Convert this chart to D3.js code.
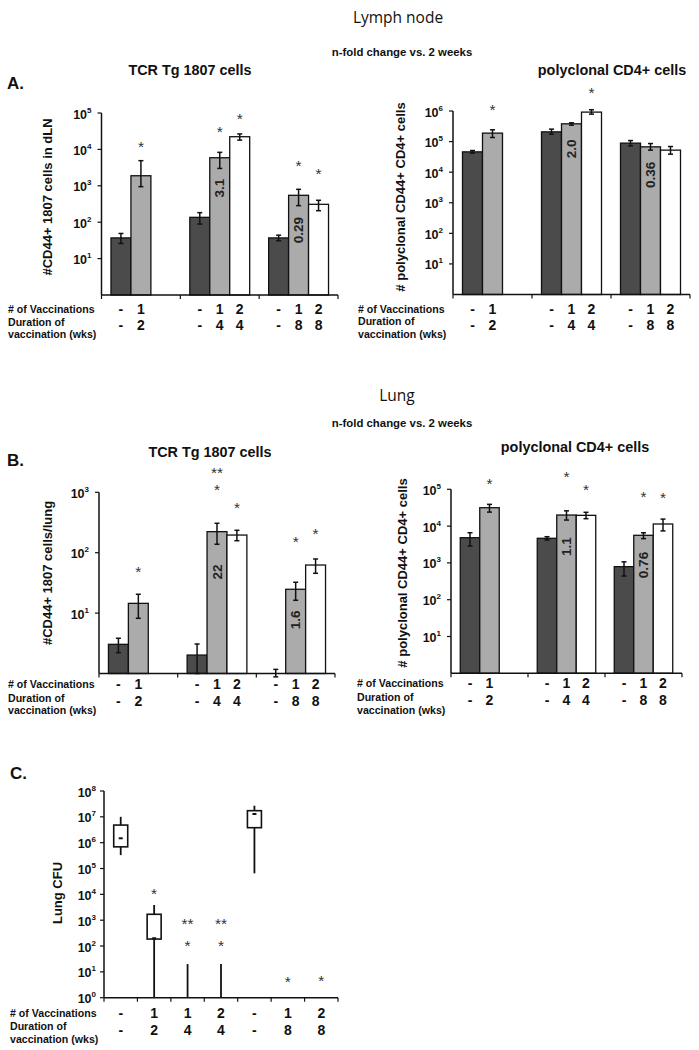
<!DOCTYPE html>
<html><head><meta charset="utf-8">
<script src="https://cdn.jsdelivr.net/npm/d3@7"></script>
<style>body{margin:0;background:#fff} svg{display:block}</style>
</head><body><svg id="c" width="699" height="1050"></svg>
<script>
// ---------------- DATA ----------------
const seriesNames = ["unvaccinated", "1 vaccination", "2 vaccinations"];
const groupVacc = [["-", "1"], ["-", "1", "2"], ["-", "1", "2"]];
const groupDur = [["-", "2"], ["-", "4", "4"], ["-", "8", "8"]];

// A. Lymph node, TCR Tg 1807 cells
const lnTcrMean = [[37, 1890], [136, 5900, 22300], [37, 548, 310]];
const lnTcrLo   = [[26, 946], [89, 3000, 18000], [31, 285, 207]];
const lnTcrHi   = [[49, 4900], [183, 8300, 26600], [44, 800, 400]];
const lnTcrStars = [[0, 1, "*", 15000], [1, 1, "*", 38700], [1, 2, "*", 88000], [2, 1, "*", 4500], [2, 2, "*", 2700]];
const lnTcrFold = [[1, 1, "3.1", 870], [2, 1, "0.29", 61]];

// A. Lymph node, polyclonal CD4+ cells
const lnPolyMean = [[46100, 189000], [208000, 381000, 920000], [89000, 67300, 52500]];
const lnPolyLo   = [[41900, 136000], [175000, 345000, 790000], [72600, 52500, 38800]];
const lnPolyHi   = [[51000, 243000], [255000, 411000, 1100000], [108000, 86300, 68900]];
const lnPolyStars = [[0, 1, "*", 1480000], [1, 2, "*", 5300000]];
const lnPolyFold = [[1, 1, "2.0", 58000], [2, 1, "0.36", 8100]];

// B. Lung, TCR Tg 1807 cells
const lgTcrMean = [[3.04, 14.5], [2.02, 223, 196], [1, 24.8, 62.5]];
const lgTcrLo   = [[2.21, 8.2], [1.0, 138, 158], [0.88, 16.3, 45.6]];
const lgTcrHi   = [[3.83, 20.5], [3.08, 307, 235], [1.17, 32.4, 78.7]];
const lgTcrStars = [[0, 1, "*", 56.5], [1, 1, "**", 2430], [1, 1, "*", 1240], [1, 2, "*", 633], [2, 1, "*", 175], [2, 2, "*", 238]];
const lgTcrFold = [[1, 1, "22", 48], [2, 1, "1.6", 7.7]];

// B. Lung, polyclonal CD4+ cells
const lgPolyMean = [[4840, 31600], [4660, 20000, 19600], [790, 5620, 11400]];
const lgPolyLo   = [[2880, 24000], [4190, 14600, 15900], [440, 4570, 7400]];
const lgPolyHi   = [[6600, 39000], [5150, 26000, 23700], [1070, 6600, 15500]];
const lgPolyStars = [[0, 1, "*", 179000], [1, 1, "*", 272000], [1, 2, "*", 123000], [2, 1, "*", 80900], [2, 2, "*", 74500]];
const lgPolyFold = [[1, 1, "1.1", 2760], [2, 1, "0.76", 877]];

// C. Lung CFU box plots
const cfuVacc = ["-", "1", "1", "2", "-", "1", "2"];
const cfuDur  = ["-", "2", "4", "4", "-", "8", "8"];
const cfuMin = [330000, 0, 0, 0, 65000, 0, 0];
const cfuQ1  = [690000, 186, 0, 0, 3800000, 0, 0];
const cfuMed = [1480000, 200, 0, 0, 12900000, 0, 0];
const cfuQ3  = [4800000, 1690, 0, 0, 17300000, 0, 0];
const cfuMax = [10000000, 3870, 20, 20, 27000000, 0, 0];
const cfuStars = [[1, "*", 14700], [2, "**", 1016], [2, "*", 147], [3, "**", 1016], [3, "*", 147], [5, "*", 5.6], [6, "*", 6.2]];

// ---------------- DRAWING ----------------
const FONT = "'Liberation Sans', Arial, Helvetica, sans-serif";
const svg = d3.select("#c").style("font-family", FONT);
svg.append("rect").attr("width", 699).attr("height", 1050).attr("fill", "#fff");
const barFill = ["#4b4b4b", "#ababab", "#ffffff"];
const INK = "#111";
const STAR = "#333";

function txt(g, x, y, s, o = {}) {
  return g.append("text").attr("x", x).attr("y", y).text(s)
    .attr("font-size", o.size || 12)
    .attr("font-weight", o.weight || "bold")
    .attr("text-anchor", o.anchor || "start")
    .attr("dominant-baseline", o.base || "central")
    .attr("fill", o.fill || INK)
    .style("font-family", o.family || FONT);
}

function logAxis(g, x0, y, exps, labelOff) {
  const [b, t] = y.range();
  g.append("line").attr("x1", x0).attr("x2", x0).attr("y1", b).attr("y2", t)
    .attr("stroke", INK).attr("stroke-width", 1.5);
  exps.forEach(k => {
    const ty = y(Math.pow(10, k));
    g.append("line").attr("x1", x0 - 4).attr("x2", x0).attr("y1", ty).attr("y2", ty)
      .attr("stroke", INK).attr("stroke-width", 1.2);
    const t = g.append("text").attr("x", x0 - labelOff).attr("y", ty + 5.5)
      .attr("text-anchor", "end").attr("font-weight", "bold").attr("font-size", 12.5).attr("fill", INK);
    t.append("tspan").text("10");
    t.append("tspan").attr("dy", -6).attr("font-size", 8).text(k);
  });
}

function rowLabels(g, rowX, base, off) {
  txt(g, rowX, base + off[0], "# of Vaccinations", {size: 10.6});
  txt(g, rowX, base + off[1], "Duration of", {size: 10.6});
  txt(g, rowX, base + off[3], "vaccination (wks)", {size: 10.6});
}

function barPanel(o) {
  const g = svg.append("g");
  const y = d3.scaleLog().domain([1, Math.pow(10, o.maxExp)]).range([o.yb, o.yt]);
  const xg = d3.scaleBand().domain([0, 1, 2]).range([o.x0, o.x1]);
  const xs = d3.scaleBand().domain([0, 1, 2]).range([0, xg.bandwidth()]).paddingOuter(0.475);
  const cx = (gi, si) => xg(gi) + xs(si) + xs.bandwidth() / 2;

  // bars
  o.mean.forEach((grp, gi) => grp.forEach((v, si) => {
    const top = y(v);
    g.append("rect").attr("x", xg(gi) + xs(si)).attr("y", top)
      .attr("width", xs.bandwidth()).attr("height", Math.max(0, o.yb - top))
      .attr("fill", barFill[si]).attr("stroke", INK).attr("stroke-width", 1.3);
  }));
  // error bars
  o.mean.forEach((grp, gi) => grp.forEach((v, si) => {
    const x = cx(gi, si), y1 = y(o.lo[gi][si]), y2 = y(o.hi[gi][si]);
    g.append("line").attr("x1", x).attr("x2", x).attr("y1", y1).attr("y2", y2).attr("stroke", INK).attr("stroke-width", 1.5);
    [y1, y2].forEach(yy => g.append("line").attr("x1", x - 2.5).attr("x2", x + 2.5).attr("y1", yy).attr("y2", yy).attr("stroke", INK).attr("stroke-width", 1.5));
  }));
  // fold-change labels
  o.fold.forEach(([gi, si, s, v]) => {
    const x = cx(gi, si), yy = y(v);
    g.append("text").attr("transform", `translate(${x},${yy}) rotate(-90)`)
      .attr("text-anchor", "middle").attr("dominant-baseline", "central")
      .attr("font-weight", "bold").attr("font-size", 13.5).attr("fill", "#222").text(s);
  });
  // stars
  o.stars.forEach(([gi, si, s, v]) => {
    g.append("text").attr("x", cx(gi, si)).attr("y", y(v)).attr("dy", "0.57em")
      .attr("text-anchor", "middle").attr("font-size", 15.5).attr("fill", STAR).text(s);
  });
  // axes
  g.append("line").attr("x1", o.x0).attr("x2", o.x1).attr("y1", o.yb).attr("y2", o.yb).attr("stroke", INK).attr("stroke-width", 1.5);
  [0, 1, 2, 3].forEach(k => {
    const x = o.x0 + k * xg.step();
    g.append("line").attr("x1", x).attr("x2", x).attr("y1", o.yb).attr("y2", o.yb + 4).attr("stroke", INK).attr("stroke-width", 1.2);
  });
  logAxis(g, o.x0, y, d3.range(1, o.maxExp + 1), 10);
  // y label
  g.append("text").attr("transform", `translate(${o.ylx},${o.yly}) rotate(-90)`)
    .attr("text-anchor", "middle").attr("dominant-baseline", "central")
    .attr("font-weight", "bold").attr("font-size", 13).attr("fill", INK).text(o.ylabel);
  // title
  txt(g, o.tx, o.ty, o.title, {size: 14.4, anchor: "middle"});
  // row labels
  rowLabels(g, o.rowX, o.yb, o.rowOff);
  groupVacc.forEach((grp, gi) => grp.forEach((s, si) => {
    txt(g, cx(gi, si), o.yb + o.rowOff[0], s, {size: 14, anchor: "middle"});
  }));
  groupDur.forEach((grp, gi) => grp.forEach((s, si) => {
    txt(g, cx(gi, si), o.yb + o.rowOff[2], s, {size: 14, anchor: "middle"});
  }));
}

// headings
txt(svg, 398, 17, "Lymph node", {size: 15.5, weight: "normal", anchor: "middle", family: "'Open Sans', sans-serif"});
txt(svg, 402, 52, "n-fold change vs. 2 weeks", {size: 11.4, anchor: "middle"});
txt(svg, 7, 83, "A.", {size: 17});
txt(svg, 397, 395, "Lung", {size: 15.5, weight: "normal", anchor: "middle", family: "'Open Sans', sans-serif"});
txt(svg, 402, 423, "n-fold change vs. 2 weeks", {size: 11.4, anchor: "middle"});
txt(svg, 7, 460, "B.", {size: 17});
txt(svg, 10, 773, "C.", {size: 17});

const rowOffA = [14, 26.7, 30, 39.3];
const rowOffB = [10, 24, 27, 36.4];

barPanel({x0: 101.5, x1: 338, yb: 295, yt: 113, maxExp: 5,
  mean: lnTcrMean, lo: lnTcrLo, hi: lnTcrHi, stars: lnTcrStars, fold: lnTcrFold,
  ylabel: "#CD44+ 1807 cells in dLN", ylx: 47, yly: 197,
  title: "TCR Tg 1807 cells", tx: 190, ty: 70, rowX: 8, rowOff: rowOffA});
barPanel({x0: 453, x1: 690, yb: 294.5, yt: 111, maxExp: 6,
  mean: lnPolyMean, lo: lnPolyLo, hi: lnPolyHi, stars: lnPolyStars, fold: lnPolyFold,
  ylabel: "# polyclonal CD44+ CD4+ cells", ylx: 400, yly: 197,
  title: "polyclonal CD4+ cells", tx: 612, ty: 70, rowX: 358, rowOff: rowOffA});
barPanel({x0: 99, x1: 335, yb: 673.5, yt: 492.3, maxExp: 3,
  mean: lgTcrMean, lo: lgTcrLo, hi: lgTcrHi, stars: lgTcrStars, fold: lgTcrFold,
  ylabel: "#CD44+ 1807 cells/lung", ylx: 47, yly: 573,
  title: "TCR Tg 1807 cells", tx: 210, ty: 452, rowX: 8, rowOff: rowOffB});
barPanel({x0: 451, x1: 682, yb: 673.3, yt: 489.3, maxExp: 5,
  mean: lgPolyMean, lo: lgPolyLo, hi: lgPolyHi, stars: lgPolyStars, fold: lgPolyFold,
  ylabel: "# polyclonal CD44+ CD4+ cells", ylx: 402, yly: 573,
  title: "polyclonal CD4+ cells", tx: 575, ty: 447, rowX: 357, rowOff: rowOffB});

// ---- Panel C: box plots ----
(function () {
  const g = svg.append("g");
  const x0 = 104, x1 = 338, yb = 997.7, yt = 791;
  const y = d3.scaleLog().domain([1, 1e8]).range([yb, yt]);
  const pv = v => y(Math.max(v, 1));
  const xc = d3.scaleBand().domain(d3.range(cfuVacc.length)).range([x0, x1]);
  const cx = i => xc(i) + xc.bandwidth() / 2;
  const bw = 14;
  cfuVacc.forEach((_, i) => {
    const x = cx(i);
    if (cfuMax[i] > 1) {
      g.append("line").attr("x1", x).attr("x2", x).attr("y1", pv(cfuMin[i])).attr("y2", pv(cfuMax[i]))
        .attr("stroke", INK).attr("stroke-width", 1.8);
    }
    if (cfuQ3[i] > cfuQ1[i]) {
      g.append("rect").attr("x", x - bw / 2).attr("y", pv(cfuQ3[i])).attr("width", bw)
        .attr("height", pv(cfuQ1[i]) - pv(cfuQ3[i])).attr("fill", "#fff").attr("stroke", INK).attr("stroke-width", 1.6);
    }
    if (cfuMed[i] > 1) {
      g.append("line").attr("x1", x - 2).attr("x2", x + 2).attr("y1", pv(cfuMed[i])).attr("y2", pv(cfuMed[i]))
        .attr("stroke", INK).attr("stroke-width", 2);
    }
  });
  cfuStars.forEach(([i, s, v]) => {
    g.append("text").attr("x", cx(i)).attr("y", y(v)).attr("dy", "0.57em")
      .attr("text-anchor", "middle").attr("font-size", 15.5).attr("fill", STAR).text(s);
  });
  g.append("line").attr("x1", x0).attr("x2", x1).attr("y1", yb).attr("y2", yb).attr("stroke", INK).attr("stroke-width", 1.5);
  d3.range(cfuVacc.length + 1).forEach(k => {
    const x = x0 + k * xc.step();
    g.append("line").attr("x1", x).attr("x2", x).attr("y1", yb).attr("y2", yb + 4).attr("stroke", INK).attr("stroke-width", 1.2);
  });
  logAxis(g, x0, y, d3.range(0, 9), 8);
  g.append("text").attr("transform", `translate(57,893) rotate(-90)`)
    .attr("text-anchor", "middle").attr("dominant-baseline", "central")
    .attr("font-weight", "bold").attr("font-size", 13).attr("fill", INK).text("Lung CFU");
  const off = [15.6, 28.3, 32, 40.8];
  rowLabels(g, 10, yb, off);
  cfuVacc.forEach((s, i) => txt(g, cx(i), yb + off[0], s, {size: 14, anchor: "middle"}));
  cfuDur.forEach((s, i) => txt(g, cx(i), yb + off[2], s, {size: 14, anchor: "middle"}));
})();
</script>
</body></html>
